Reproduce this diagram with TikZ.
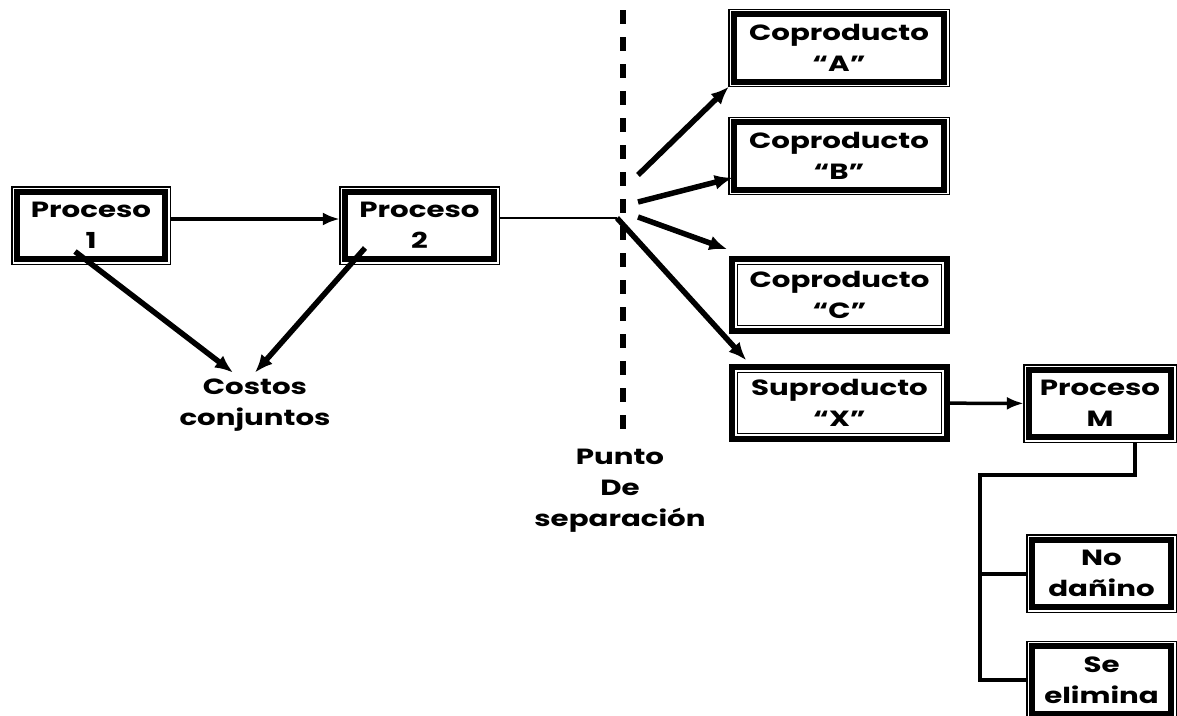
\documentclass[tikz,border=0pt]{standalone}
\usepackage{fontspec}
\setmainfont{Poppins}[FakeStretch=1.33]
\usetikzlibrary{calc, positioning, arrows.meta}
\def\thinline{1.4pt}
\def\thickline{6pt}
\def\boxinset{5}
\def\fontbig{\fontsize{22}{31}\selectfont\bfseries}
\tikzset{
	% labels
	label_text/.style={
		font=\fontbig,
		align=center,
		inner sep=0pt,
	},
	% boxes
	stage/.style={
		label_text,
		shape=rectangle,
		minimum height=77pt,
	},
	stage_wide/.style={
		stage,
		minimum width=220pt,
	},
	stage_small/.style={
		stage,
		minimum width=152pt,
	},
	% frames
	frame_thin/.style={
		draw=black,
		line width=\thinline,
	},
	frame_thick/.style={
		draw=black,
		line width=\thickline,
	},
	% connections
	flow/.style={
		line width=3.5pt,
		-{Latex[length=17pt, width=13pt]},
	},
	flow_heavy/.style={
		line width=5.5pt,
		-{Latex[length=18pt, width=15pt]},
	},
	branch/.style={
		line width=4pt,
	},
	% separation line
	separation/.style={
		line width=6pt,
		dash pattern=on 14pt off 13pt,
	},
}

\begin{document}
\begin{tikzpicture}[x=1pt, y=-1pt]
		\useasboundingbox (0,0) rectangle (1177,715);
		
		% Processes
		\node[
			stage,
			minimum width=158pt,
		] (proceso1) at (91,225.5) {Proceso\\1};
		\node[
			stage,
			minimum width=159pt,
		] (proceso2) at (419.5,225.5) {Proceso\\2};
		
		% Joint costs
		\node[
			label_text,
		] (costos) at (255,405) {Costos\\conjuntos};
		
		% Split-off point
		\coordinate (split) at (617,218);
		\coordinate (sep_top) at (623,10);
		\coordinate (sep_bottom) at (623,434);
		\node[
			label_text,
			anchor=north,
		] (punto) at (620,449) {Punto\\De\\separación};
		
		% Products
		\node[
			stage_wide,
		] (coproducto_a) at (839,48) {Coproducto\\“A”};
		\node[
			stage_wide,
		] (coproducto_b) at (839,156) {Coproducto\\“B”};
		\node[
			stage_wide,
		] (coproducto_c) at (839.5,295) {Coproducto\\“C”};
		\node[
			stage_wide,
		] (suproducto_x) at (839.5,403) {Suproducto\\“X”};
		
		% Further processing
		\node[
			stage_small,
		] (proceso_m) at (1100,403.5) {Proceso\\M};
		\node[
			stage_small,
			minimum width=149pt,
		] (no_danino) at (1101.5,573.5) {No\\dañino};
		\node[
			stage_small,
			minimum width=149pt,
		] (se_elimina) at (1101.5,680) {Se\\elimina};
		
		% Frames: thin outside, thick inside
		\foreach \n in {proceso1, proceso2, coproducto_a, coproducto_b, proceso_m, no_danino, se_elimina} {
			\draw[frame_thin] (\n.south west) rectangle (\n.north east);
			\draw[frame_thick] ($(\n.south west)+(\boxinset,-\boxinset)$) rectangle ($(\n.north east)+(-\boxinset,\boxinset)$);
		}
		% Frames: thick outside, thin inside
		\foreach \n in {coproducto_c, suproducto_x} {
			\draw[frame_thick] ($(\n.south west)+(3,-3)$) rectangle ($(\n.north east)+(-3,3)$);
			\draw[frame_thin] ($(\n.south west)+(\boxinset+3,-\boxinset-3)$) rectangle ($(\n.north east)+(-\boxinset-3,\boxinset+3)$);
		}
		
		% Separation line
		\draw[separation] (sep_top) -- (sep_bottom);
		
		% Process flow
		\draw[flow] ([yshift=6.5pt]proceso1.east) -- ([yshift=6.5pt]proceso2.west);
		\draw[line width=1.5pt] (proceso2.east |- split) -- (split);
		\draw[flow_heavy] ($(proceso1.center)+(-16,26)$) -- ($(costos.north)+(-22,-6)$);
		\draw[flow_heavy] ($(proceso2.center)+(-54.5,22.5)$) -- ($(costos.north)+(0,-6)$);
		
		% Split-off
		\draw[flow_heavy] ($(split)+(21,-43)$) -- (coproducto_a.south west);
		\draw[flow_heavy] ($(split)+(21,-16)$) -- ($(coproducto_b.south west)+(4,-17)$);
		\draw[flow_heavy] ($(split)+(21,-1)$) -- ($(coproducto_c.north west)+(-2,-7)$);
		\draw[flow_heavy] (split) -- ($(suproducto_x.north west)+(17,-4)$);
		\draw[flow] (suproducto_x) -- (proceso_m);
		
		% Disposal branch
		\coordinate (branch_top) at ($(proceso_m.south)+(35,33)$);
		\coordinate (branch_left) at (980,0);
		\draw[branch] ($(proceso_m.south)+(35,0)$) -- (branch_top) -- (branch_left |- branch_top) -- (branch_left |- se_elimina.west) -- (se_elimina.west);
		\draw[branch] (branch_left |- no_danino.west) -- (no_danino.west);
	\end{tikzpicture}
\end{document}
